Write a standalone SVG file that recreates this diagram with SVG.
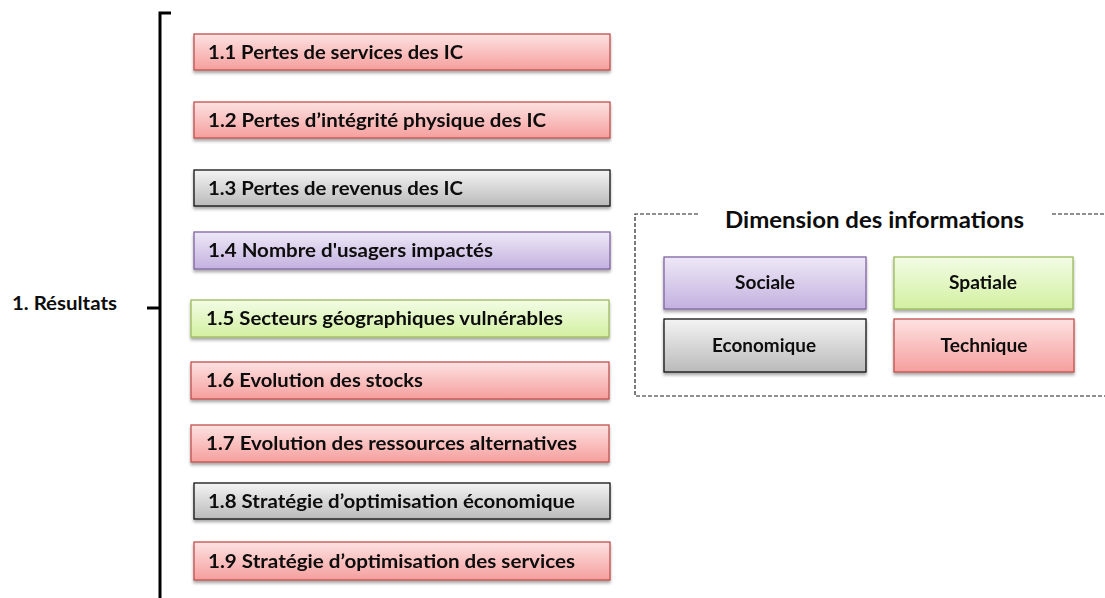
<svg xmlns="http://www.w3.org/2000/svg" width="1105" height="598" viewBox="0 0 1105 598">
<style>
.t{font-family:Lato,"Liberation Sans",sans-serif;font-weight:700;fill:#0d0d0d;font-size:18.5px}
.c{text-anchor:middle}
.red{fill:url(#gR);stroke:#c0504d;stroke-width:1.3}
.gray{fill:url(#gG);stroke:#111;stroke-width:1.3}
.pur{fill:url(#gP);stroke:#8064a2;stroke-width:1.3}
.grn{fill:url(#gV);stroke:#9bbb59;stroke-width:1.3}
.box{filter:url(#sh)}
</style>
<defs>
<linearGradient id="gR" x1="0" y1="0" x2="0" y2="1"><stop offset="0" stop-color="#fde2e2"/><stop offset="1" stop-color="#f59f9d"/></linearGradient>
<linearGradient id="gG" x1="0" y1="0" x2="0" y2="1"><stop offset="0" stop-color="#f4f4f4"/><stop offset="1" stop-color="#bababa"/></linearGradient>
<linearGradient id="gP" x1="0" y1="0" x2="0" y2="1"><stop offset="0" stop-color="#eee8f7"/><stop offset="1" stop-color="#c3b1df"/></linearGradient>
<linearGradient id="gV" x1="0" y1="0" x2="0" y2="1"><stop offset="0" stop-color="#f3fce6"/><stop offset="1" stop-color="#d2f0a0"/></linearGradient>
<filter id="sh" x="-5%" y="-20%" width="110%" height="150%"><feDropShadow dx="0" dy="2.5" stdDeviation="1.5" flood-color="#000" flood-opacity="0.35"/></filter>
</defs>

<g id="connectors">
<path d="M171 13 H160 V598" fill="none" stroke="#000" stroke-width="3"/>
<path d="M147 308 H160" fill="none" stroke="#000" stroke-width="3"/>
</g>

<g id="root"><text class="t" x="12" y="310" textLength="105" lengthAdjust="spacingAndGlyphs">1. Résultats</text></g>

<g id="n1_1" class="box"><rect class="red" x="194" y="34" width="416" height="36"/><text class="t" x="208" y="59" textLength="255" lengthAdjust="spacingAndGlyphs">1.1 Pertes de services des IC</text></g>
<g id="n1_2" class="box"><rect class="red" x="194" y="102" width="416" height="36"/><text class="t" x="208" y="127" textLength="338" lengthAdjust="spacingAndGlyphs">1.2 Pertes d’intégrité physique des IC</text></g>
<g id="n1_3" class="box"><rect class="gray" x="194" y="170" width="416" height="36"/><text class="t" x="208" y="195" textLength="255" lengthAdjust="spacingAndGlyphs">1.3 Pertes de revenus des IC</text></g>
<g id="n1_4" class="box"><rect class="pur" x="194" y="232" width="416" height="37"/><text class="t" x="208" y="257" textLength="285" lengthAdjust="spacingAndGlyphs">1.4 Nombre d'usagers impactés</text></g>
<g id="n1_5" class="box"><rect class="grn" x="191" y="300" width="418" height="37"/><text class="t" x="206" y="325" textLength="357" lengthAdjust="spacingAndGlyphs">1.5 Secteurs géographiques  vulnérables</text></g>
<g id="n1_6" class="box"><rect class="red" x="191" y="362" width="418" height="37"/><text class="t" x="206" y="387" textLength="217" lengthAdjust="spacingAndGlyphs">1.6 Evolution  des stocks</text></g>
<g id="n1_7" class="box"><rect class="red" x="191" y="425" width="418" height="37"/><text class="t" x="206" y="450" textLength="371" lengthAdjust="spacingAndGlyphs">1.7 Evolution  des ressources alternatives</text></g>
<g id="n1_8" class="box"><rect class="gray" x="194" y="483" width="416" height="36"/><text class="t" x="208" y="508" textLength="367" lengthAdjust="spacingAndGlyphs">1.8 Stratégie d’optimisation  économique</text></g>
<g id="n1_9" class="box"><rect class="red" x="194" y="542" width="416" height="38"/><text class="t" x="208" y="568" textLength="367" lengthAdjust="spacingAndGlyphs">1.9 Stratégie d’optimisation  des services</text></g>

<g id="legend">
<path d="M698 214 H635 V396 H1105 M1052 214 H1105" fill="none" stroke="#222" stroke-width="1.2" stroke-dasharray="4 2"/>
<text class="t" x="725" y="228" style="font-size:22px" textLength="299" lengthAdjust="spacingAndGlyphs">Dimension des informations</text>
<g id="leg_sociale" class="box"><rect class="pur" x="664" y="257" width="202" height="52"/><text class="t c" x="765" y="289" style="font-size:18px" textLength="60" lengthAdjust="spacingAndGlyphs">Sociale</text></g>
<g id="leg_spatiale" class="box"><rect class="grn" x="894" y="257" width="179" height="52"/><text class="t c" x="983" y="289" style="font-size:18px" textLength="68" lengthAdjust="spacingAndGlyphs">Spatiale</text></g>
<g id="leg_economique" class="box"><rect class="gray" x="664" y="319" width="202" height="53"/><text class="t c" x="764" y="352" style="font-size:18px" textLength="104" lengthAdjust="spacingAndGlyphs">Economique</text></g>
<g id="leg_technique" class="box"><rect class="red" x="894" y="319" width="180" height="53"/><text class="t c" x="984" y="352" style="font-size:18px" textLength="87" lengthAdjust="spacingAndGlyphs">Technique</text></g>
</g>
</svg>
